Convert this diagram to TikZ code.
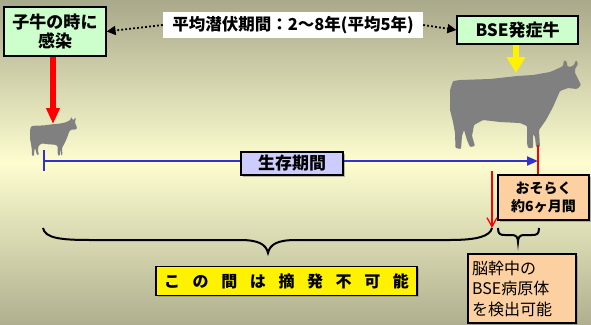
\documentclass[tikz,border=0pt]{standalone}
\usepackage{fontspec}
\setmainfont{Noto Sans CJK JP}[BoldFont={Noto Sans CJK JP Black}]
\usetikzlibrary{arrows.meta,shadows}

\definecolor{bgtop}{HTML}{A9A98B}
\definecolor{bgmid}{HTML}{FDFDD0}
\definecolor{bgbot}{HTML}{B0B090}
\definecolor{boxgreen}{HTML}{CCFFCC}
\definecolor{boxlav}{HTML}{CCCCFF}
\definecolor{boxpeach}{HTML}{FCD0A0}
\definecolor{cowgray}{HTML}{808080}
\definecolor{lifeblue}{HTML}{3333CC}

\newcommand\wbox[1]{\makebox[28.6pt]{#1}}

\tikzset{
  labelbox/.style={draw=black, line width=1.2pt, inner sep=0pt, align=center, font=\bfseries},
  shadowbox/.style={labelbox, drop shadow={shadow xshift=1.5pt, shadow yshift=-1.5pt, fill=black!45, opacity=.6}},
  dotarrow/.style={line width=1.8pt, dash pattern=on 1.8pt off 2.2pt, -{Triangle[length=9pt,width=9pt]}},
  cow/.pic={
    \fill[cowgray, rounded corners=1pt]
      (3,21) -- (0,30) -- (0,50) -- (3,62) -- (5,73) -- (5.5,88) -- (11,89) -- (12,76)
      -- (14,70) -- (17,80) -- (20,87) -- (25,86) -- (22,76) -- (24,65) -- (33,60)
      -- (50,62) -- (70,63) -- (77,66) -- (77,83) -- (78,88) -- (83,88) -- (83,74)
      -- (85,77) -- (86,87) -- (90,87) -- (89,70) -- (96,60) -- (103,47) -- (110,31)
      -- (118,28) -- (127,29) -- (131,25) -- (125,13) -- (125,9) -- (128,4) -- (126,0)
      -- (124,5) -- (120,7) -- (117,6) -- (117,2) -- (114,0) -- (113,6) -- (107,9)
      -- (100,12) -- (83,15) -- (67,16) -- (40,19) -- (10,20) -- cycle;
  }
}

\begin{document}
\begin{tikzpicture}[x=1pt,y=-1pt]
\useasboundingbox (0,0) rectangle (591,324);
% background
\shade[top color=bgtop, bottom color=bgbot, middle color=bgmid] (0,0) rectangle (591,324);

% cows
\pic at (30,117) [xscale=.36, yscale=.44] {cow};
\pic at (450,60) {cow};
\coordinate (calfback) at (53,124);
\coordinate (cowback) at (516,73);

% header boxes
\node[labelbox, fill=boxgreen, minimum width=102pt, minimum height=49pt,
      font=\bfseries\fontsize{17pt}{19pt}\selectfont] (infect) at (55,31.5) {子牛の時に\\感染};
\node[fill=white, inner sep=0pt, minimum width=260pt, minimum height=26pt,
      font=\bfseries\fontsize{16.5pt}{18pt}\selectfont] (incub) at (293,25) {平均潜伏期間：2～8年(平均5年)};
\node[labelbox, fill=boxgreen, minimum width=121pt, minimum height=28pt,
      font=\bfseries\fontsize{17pt}{19pt}\selectfont] (bse) at (517.5,30) {BSE発症牛};

\draw[dotarrow] (incub.west) -- (infect.east);
\draw[dotarrow] (incub.east) -- (bse.west);

% infection and onset arrows
\draw[red, line width=6pt, -{Triangle[length=16pt,width=13pt]}] (infect.south -| calfback) -- (calfback);
\draw[yellow, line width=6pt, -{Triangle[length=16pt,width=18pt]}] (bse.south -| cowback) -- (cowback);

% survival period
\node[shadowbox, fill=boxlav, minimum width=102pt, minimum height=23pt,
      font=\bfseries\fontsize{17pt}{19pt}\selectfont] (life) at (292,163.5) {生存期間};
\coordinate (lifestart) at (44,161);
\coordinate (lifeend) at (538,161);
\draw[lifeblue, line width=2pt] (44,150) -- (44,171);
\draw[lifeblue, line width=2pt] (lifestart) -- (life.west |- lifestart);
\draw[lifeblue, line width=2pt, -{Triangle[length=11pt,width=9pt]}] (life.east |- lifeend) -- (lifeend);

% detectable period
\node[shadowbox, fill=boxpeach, minimum width=91pt, minimum height=45pt,
      font=\bfseries\fontsize{14pt}{18pt}\selectfont] (sixmo) at (543.5,197.5) {おそらく\\約6ヶ月間};
\coordinate (deathtop) at (538,145);
\draw[red, line width=1.3pt] (deathtop) -- (deathtop |- sixmo.north);
\coordinate (detstart) at (492,171);
\coordinate (bracejoin) at (492,228);
\draw[red, line width=1.3pt, -{Straight Barb[length=9pt,width=10pt]}] (detstart) -- (bracejoin);

% braces
\draw[black, line width=2pt]
  (43,228) .. controls (45,238) and (60,240) .. (90,240) -- (240,240)
  .. controls (258,240) and (266,244) .. (268,253)
  .. controls (270,244) and (278,240) .. (296,240) -- (450,240)
  .. controls (478,240) and (490,236) .. (bracejoin);
\draw[black, line width=2pt]
  (498,228) .. controls (498,234) and (500,235) .. (505,235) -- (512,235)
  .. controls (516,235) and (518,237) .. (518,242)
  .. controls (518,237) and (520,235) .. (524,235) -- (532,235)
  .. controls (537,235) and (539,234) .. (539,228);

% bottom labels
\node[shadowbox, fill=yellow, minimum width=261pt, minimum height=29pt,
      font=\bfseries\fontsize{16pt}{18pt}\selectfont] (nodetect) at (286.5,281)
  {\wbox{こ}\wbox{の}\wbox{間}\wbox{は}\wbox{摘}\wbox{発}\wbox{不}\wbox{可}\wbox{能}};
\node[shadowbox, fill=boxpeach, font=\fontsize{16pt}{20.5pt}\selectfont, align=left,
      minimum width=108pt, minimum height=69pt, text width=100pt] (brain) at (522,288.5)
  {脳幹中の\\BSE病原体\\を検出可能};
\end{tikzpicture}
\end{document}
